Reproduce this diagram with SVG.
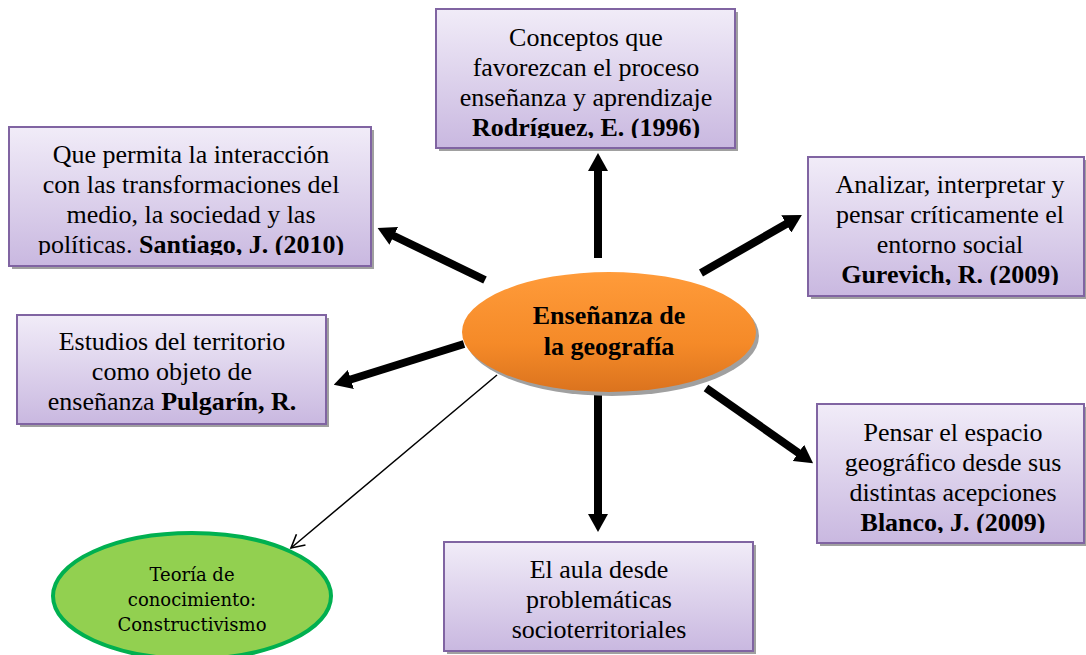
<svg xmlns="http://www.w3.org/2000/svg" width="1086" height="655" viewBox="0 0 1086 655">
<defs>
<linearGradient id="gBox" x1="0" y1="0" x2="0" y2="1">
<stop offset="0" stop-color="#F1ECF8"/>
<stop offset="1" stop-color="#C9B8E0"/>
</linearGradient>
<linearGradient id="gOrange" x1="0" y1="0" x2="0" y2="1">
<stop offset="0" stop-color="#FF9B3A"/>
<stop offset="0.6" stop-color="#F58A28"/>
<stop offset="1" stop-color="#DB731E"/>
</linearGradient>
<marker id="head" markerUnits="userSpaceOnUse" markerWidth="18" markerHeight="20" refX="2" refY="10" orient="auto" viewBox="0 0 18 20">
<path d="M0,0 L18,10 L0,20 Z" fill="#000"/>
</marker>
<marker id="open" markerUnits="userSpaceOnUse" markerWidth="16" markerHeight="16" refX="14" refY="8" orient="auto" viewBox="0 0 16 16">
<path d="M1,1 L14,8 L1,15" fill="none" stroke="#000" stroke-width="1.6"/>
</marker>
<clipPath id="c1"><rect x="436" y="9" width="302" height="129"/></clipPath>
<clipPath id="c2"><rect x="9" y="127" width="364" height="128"/></clipPath>
<clipPath id="c3"><rect x="808" y="157" width="278" height="128"/></clipPath>
<clipPath id="c5"><rect x="817" y="404" width="269" height="129"/></clipPath>
</defs>
<style>
.shadow{fill:#A0A0A0}
.box{fill:url(#gBox);stroke:#8064A2;stroke-width:2}
.t{font-family:"Liberation Serif","Times New Roman",serif;font-size:26px;fill:#000;text-anchor:middle}
.b{font-weight:bold}
.thick{stroke:#000;stroke-width:8;fill:none;marker-end:url(#head)}
.thin{stroke:#000;stroke-width:1.5;fill:none;marker-end:url(#open)}
.g{font-family:"DejaVu Serif",serif;font-size:18px;fill:#000;text-anchor:middle}
</style>

<g id="connectors">
<line class="thick" x1="598" y1="258" x2="598" y2="169"/>
<line class="thick" x1="485" y1="280" x2="392" y2="235"/>
<line class="thick" x1="701" y1="273" x2="788" y2="223"/>
<line class="thick" x1="464" y1="344" x2="349" y2="380"/>
<line class="thick" x1="706" y1="388" x2="800" y2="454"/>
<line class="thick" x1="598" y1="393" x2="598" y2="516"/>
<line class="thin" x1="497" y1="375" x2="291" y2="548"/>
</g>

<g id="center">
<ellipse cx="612" cy="336" rx="147" ry="60" class="shadow"/>
<ellipse cx="609" cy="332" rx="147" ry="60" fill="url(#gOrange)"/>
<text class="t b" x="609" y="324">Enseñanza de</text>
<text class="t b" x="609" y="355">la geografía</text>
</g>

<g id="n1">
<rect x="439" y="12" width="299" height="139" class="shadow"/>
<rect x="436" y="9" width="299" height="139" class="box"/>
<g clip-path="url(#c1)">
<text class="t" x="586" y="46">Conceptos que</text>
<text class="t" x="586" y="76">favorezcan el proceso</text>
<text class="t" x="586" y="106">enseñanza y aprendizaje</text>
<text class="t b" x="586" y="136">Rodríguez, E. (1996)</text>
</g>
</g>

<g id="n2">
<rect x="12" y="130" width="362" height="139" class="shadow"/>
<rect x="9" y="127" width="362" height="139" class="box"/>
<g clip-path="url(#c2)">
<text class="t" x="191" y="163">Que permita la interacción</text>
<text class="t" x="191" y="193">con las transformaciones del</text>
<text class="t" x="191" y="223">medio, la sociedad y las</text>
<text class="t" x="191" y="253">políticas. <tspan class="b">Santiago, J. (2010)</tspan></text>
</g>
</g>

<g id="n3">
<rect x="811" y="160" width="276" height="139" class="shadow"/>
<rect x="808" y="157" width="276" height="139" class="box"/>
<g clip-path="url(#c3)">
<text class="t" x="950" y="193">Analizar, interpretar y</text>
<text class="t" x="950" y="223">pensar críticamente el</text>
<text class="t" x="950" y="253">entorno social</text>
<text class="t b" x="950" y="283">Gurevich, R. (2009)</text>
</g>
</g>

<g id="n4">
<rect x="20" y="318" width="309" height="109" class="shadow"/>
<rect x="17" y="315" width="309" height="109" class="box"/>
<text class="t" x="172" y="350">Estudios del territorio</text>
<text class="t" x="172" y="380">como objeto de</text>
<text class="t" x="172" y="410">enseñanza <tspan class="b">Pulgarín, R.</tspan></text>
</g>

<g id="n5">
<rect x="820" y="407" width="267" height="139" class="shadow"/>
<rect x="817" y="404" width="267" height="139" class="box"/>
<g clip-path="url(#c5)">
<text class="t" x="953" y="441">Pensar el espacio</text>
<text class="t" x="953" y="471">geográfico desde sus</text>
<text class="t" x="953" y="501">distintas acepciones</text>
<text class="t b" x="953" y="531">Blanco, J. (2009)</text>
</g>
</g>

<g id="n6">
<rect x="447" y="545" width="309" height="109" class="shadow"/>
<rect x="444" y="542" width="309" height="109" class="box"/>
<text class="t" x="599" y="578">El aula desde</text>
<text class="t" x="599" y="608">problemáticas</text>
<text class="t" x="599" y="638">socioterritoriales</text>
</g>

<g id="n7">
<ellipse cx="192" cy="596" rx="139" ry="63" fill="#92D050" stroke="#00B050" stroke-width="4"/>
<text class="g" x="192" y="581">Teoría de</text>
<text class="g" x="192" y="606">conocimiento:</text>
<text class="g" x="192" y="631">Constructivismo</text>
</g>
</svg>
